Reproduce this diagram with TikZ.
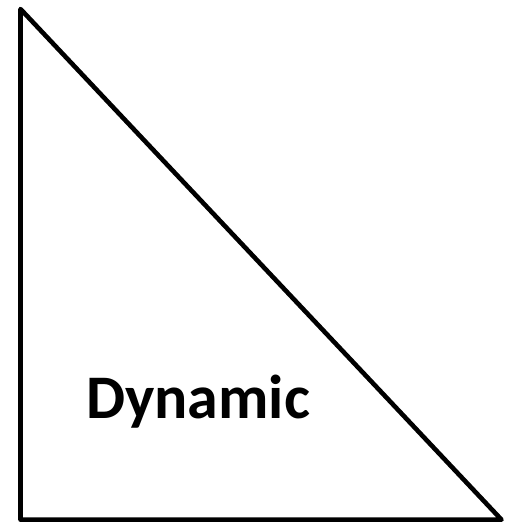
\documentclass[tikz,border=0pt]{standalone}
\usepackage{fontspec}
\setmainfont{Carlito}
\begin{document}
\begin{tikzpicture}[x=1pt,y=-1pt,
  edge/.style={line width=4.6pt,line join=round,black},
  lbl/.style={font=\fontsize{62}{66}\selectfont\bfseries,inner sep=0pt,anchor=base}]
\useasboundingbox (0,0) rectangle (504,522);
\coordinate (t) at (20.5,9);
\coordinate (bl) at (20.5,519.7);
\coordinate (br) at (501.5,519.7);
\draw[edge] (t) -- (bl) -- (br) -- cycle;
\node[lbl] (d) at (198,418) {Dynamic};
\end{tikzpicture}
\end{document}
